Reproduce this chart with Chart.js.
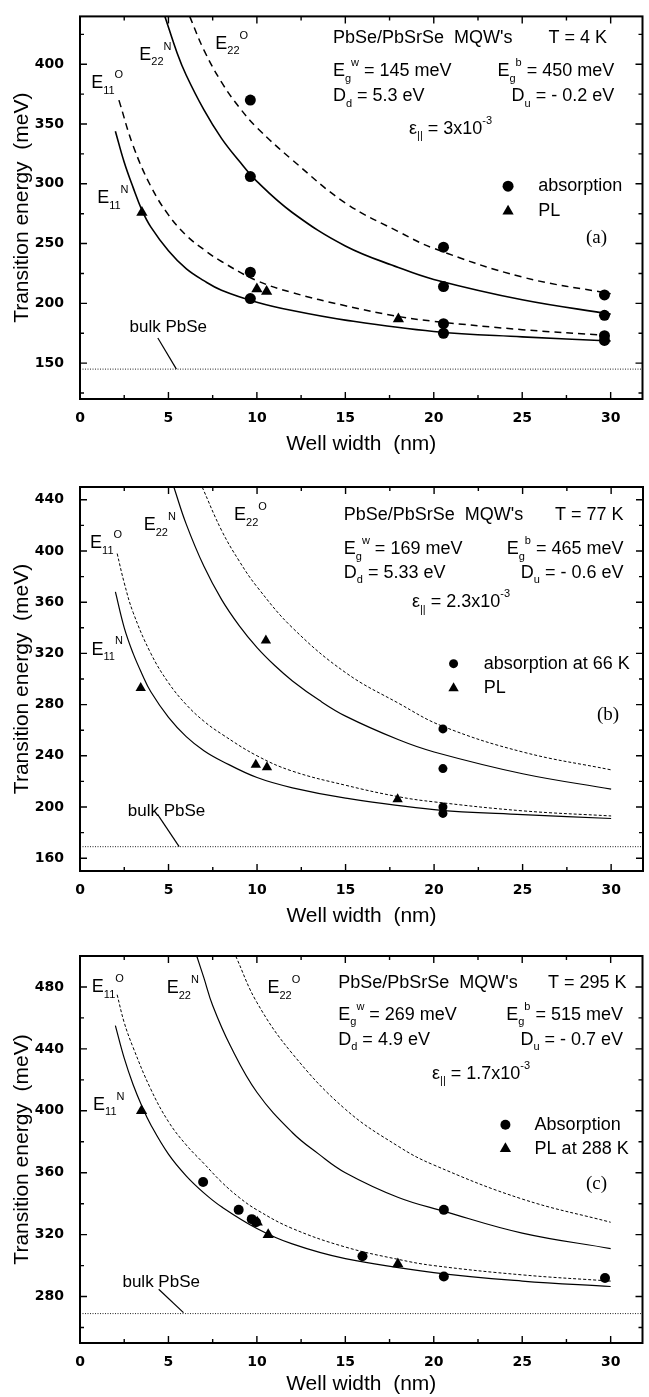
<!doctype html>
<html>
<head>
<title>PbSe/PbSrSe MQW transition energies</title>
<script src="https://cdn.jsdelivr.net/npm/chart.js@4/dist/chart.umd.min.js"></script>
<style>
  body { margin: 0; background: #fff; }
  canvas { position: absolute; left: 0; }
</style>
</head>
<body>
<canvas id="ca" width="649" height="466" style="top:0"></canvas>
<canvas id="cb" width="649" height="466" style="top:466px"></canvas>
<canvas id="cc" width="649" height="465" style="top:932px"></canvas>
<script>
// ---- values ----
const xTickValues = [0, 2.5, 5, 7.5, 10, 12.5, 15, 17.5, 20, 22.5, 25, 27.5, 30];
const xTickLabels = [0, 5, 10, 15, 20, 25, 30];

// (a) T = 4 K
const aYTicks = [125, 150, 175, 200, 225, 250, 275, 300, 325, 350, 375, 400, 425];
const aYLabels = [150, 200, 250, 300, 350, 400];
const aBulk = 145;
const aE11N = [[2, 344], [2.5, 318], [3, 297], [3.5, 278], [4, 264], [5, 244], [6, 229], [7, 219], [8, 211], [10, 201], [12, 194], [15, 186], [20, 176.5], [25, 172], [30, 168.5]];
const aE11O = [[2.2, 370], [3, 332], [4, 298], [5, 274], [6, 257], [7, 245], [8, 235], [10, 219], [12, 209], [15, 198], [18, 189], [20, 185], [25, 178], [30, 173]];
const aE22N = [[4.8, 440], [5.5, 409], [6, 391], [7, 362], [8, 338], [9, 319], [10, 302], [12, 276], [15, 248], [18, 230], [20, 220], [25, 203], [30, 191]];
const aE22O = [[6.2, 440], [7, 412], [8, 385], [9, 364], [10, 347], [12, 320], [15, 284], [18, 260], [20, 246], [25, 222], [30, 208]];
const aAbsorption = [[9.63, 370], [9.63, 306], [9.63, 226], [9.63, 204], [20.55, 247], [20.55, 214], [20.55, 183], [20.55, 175], [29.65, 207], [29.65, 190], [29.65, 173], [29.65, 169]];
const aPL = [[3.5, 276], [10.0, 212], [10.55, 210], [18.0, 187]];

// (b) T = 77 K
const bYTicks = [160, 180, 200, 220, 240, 260, 280, 300, 320, 340, 360, 380, 400, 420, 440];
const bYLabels = [160, 200, 240, 280, 320, 360, 400, 440];
const bBulk = 169;
const bE11N = [[2, 368], [2.5, 340], [3, 320], [3.5, 304], [4, 290], [5, 270], [6, 255], [7, 244], [8, 236], [10, 223], [12, 215], [15, 207], [20, 198], [25, 194], [30, 191]];
const bE11O = [[2.1, 398], [2.5, 375], [3, 352], [4, 320], [5, 297], [6, 280], [7, 267], [8, 257], [10, 240], [12, 228], [15, 217], [18, 208], [20, 204], [25, 197], [30, 193]];
const bE22N = [[5.3, 450], [6, 421], [7, 388], [8, 362], [9, 341.5], [10, 324.5], [11, 310.5], [12, 298.5], [13.5, 283.5], [15, 271], [18, 252.5], [20, 243], [25, 226], [30, 214]];
const bE22O = [[6.9, 450], [8, 416], [9, 392], [10, 372], [12, 340], [15, 305], [18, 281], [20.5, 263], [25, 243], [30, 229]];
const bAbsorption = [[20.5, 261], [20.5, 230], [20.5, 200], [20.5, 195]];
const bPL = [[3.43, 293], [10.5, 330], [9.93, 233], [10.56, 231], [17.94, 206]];

// (c) T = 295 K
const cYTicks = [260, 280, 300, 320, 340, 360, 380, 400, 420, 440, 460, 480];
const cYLabels = [280, 320, 360, 400, 440, 480];
const cBulk = 269;
const cE11N = [[2, 455], [2.5, 434], [3, 417], [3.5, 403], [4, 391], [5, 372], [6, 358], [7, 347], [8, 338], [10, 324], [12, 314], [15, 304.5], [20, 295.5], [25, 290], [30, 286.5]];
const cE11O = [[2.1, 475], [2.5, 457], [3, 441], [4, 414], [5, 393], [6, 378], [7, 366], [8, 354], [9, 344], [10, 336], [12, 324], [15, 312], [18, 304], [20, 300], [25, 294], [30, 290]];
const cE22N = [[6.6, 500], [7, 486], [7.5, 468], [8.5, 442], [10, 412], [12, 386], [13.5, 372], [15, 360], [18, 344], [20.6, 335], [25, 321], [30, 311]];
const cE22O = [[8.8, 500], [10, 470], [12, 437], [15, 401], [18, 377], [20, 365], [25, 343], [30, 328]];
const cAbsorption = [[6.96, 354], [8.97, 336], [9.71, 330], [9.95, 328], [15.97, 306], [20.57, 336], [20.57, 293], [29.68, 292]];
const cPL = [[3.48, 400], [10.02, 328], [10.64, 320], [17.97, 301]];

// ---- drawing ----
const SANS = '"Liberation Sans", Arial, sans-serif';
const SERIF = '"Liberation Serif", "Times New Roman", serif';
const tickFont = { family: 'DejaVu Sans', size: 14, weight: 'bold' };
const titleFont = { family: SANS, size: 21 };
const X_MAX = 31.8;

function pts(arr) { return arr.map(p => ({ x: p[0], y: p[1] })); }

function parseRich(s) {
  const out = [];
  let buf = '', i = 0;
  while (i < s.length) {
    const c = s[i];
    if ((c === '_' || c === '^') && s[i + 1] === '{') {
      if (buf) { out.push({ t: buf, m: 0 }); buf = ''; }
      const j = s.indexOf('}', i);
      out.push({ t: s.slice(i + 2, j), m: c === '_' ? 1 : 2 });
      i = j + 1;
    } else { buf += c; i++; }
  }
  if (buf) out.push({ t: buf, m: 0 });
  return out;
}

function drawRich(ctx, s, x, y, align, size, family) {
  const parts = parseRich(s);
  const small = Math.round(size * 0.62);
  const fonts = [size + 'px ' + family, small + 'px ' + family, small + 'px ' + family];
  let w = 0;
  parts.forEach(p => { ctx.font = fonts[p.m]; p.w = ctx.measureText(p.t).width; w += p.w; });
  let cx = align === 'right' ? x - w : x;
  ctx.textAlign = 'left';
  ctx.textBaseline = 'middle';
  parts.forEach(p => {
    ctx.font = fonts[p.m];
    const dy = p.m === 1 ? size * 0.42 : (p.m === 2 ? -size * 0.45 : 0);
    ctx.fillText(p.t, cx, y + dy);
    cx += p.w;
  });
}

function marker(ctx, style, x, y, r) {
  ctx.beginPath();
  if (style === 'circle') {
    ctx.arc(x, y, r, 0, Math.PI * 2);
  } else {
    ctx.moveTo(x, y - r);
    ctx.lineTo(x + r * 0.866, y + r / 2);
    ctx.lineTo(x - r * 0.866, y + r / 2);
    ctx.closePath();
  }
  ctx.fill();
}

// frame with inward ticks, in-plot labels, legend
const decor = {
  id: 'decor',
  afterDraw(chart, args, o) {
    const { ctx, chartArea: a, scales: { x, y } } = chart;
    ctx.save();
    ctx.fillStyle = '#000';
    ctx.strokeStyle = '#000';
    ctx.lineWidth = 1.4;
    ctx.beginPath();
    x.ticks.forEach(t => {
      const px = x.getPixelForValue(t.value);
      const len = xTickLabels.includes(t.value) ? 7 : 4;
      ctx.moveTo(px, a.bottom); ctx.lineTo(px, a.bottom - len);
      ctx.moveTo(px, a.top); ctx.lineTo(px, a.top + len);
    });
    y.ticks.forEach(t => {
      const py = y.getPixelForValue(t.value);
      const len = o.yMajor.includes(t.value) ? 7 : 4;
      ctx.moveTo(a.left, py); ctx.lineTo(a.left + len, py);
      ctx.moveTo(a.right, py); ctx.lineTo(a.right - len, py);
    });
    ctx.stroke();
    ctx.lineWidth = 2;
    ctx.strokeRect(a.left, a.top, a.width, a.height);

    // leader from "bulk PbSe" to the bulk gap line
    ctx.lineWidth = 1.2;
    ctx.beginPath();
    ctx.moveTo(x.getPixelForValue(o.leader[0][0]), y.getPixelForValue(o.leader[0][1]));
    ctx.lineTo(x.getPixelForValue(o.leader[1][0]), y.getPixelForValue(o.leader[1][1]));
    ctx.stroke();

    o.texts.forEach(t => drawRich(ctx, t.s, x.getPixelForValue(t.x), y.getPixelForValue(t.y),
      t.align, t.size || 18, t.family || SANS));
    o.legend.forEach(m => marker(ctx, m.style, x.getPixelForValue(m.x), y.getPixelForValue(m.y), m.r));
    ctx.restore();
  }
};

function curve(data, dashed, width) {
  return {
    data: pts(data), showLine: true, pointRadius: 0, borderColor: '#000',
    borderWidth: width, borderDash: dashed || [], tension: 0.4
  };
}

function buildPanel(id, P) {
  const datasets = [
    { data: [{ x: 0, y: P.bulk }, { x: X_MAX, y: P.bulk }], showLine: true, pointRadius: 0,
      borderColor: '#222', borderWidth: 1, borderDash: [1, 1.5] },
    curve(P.e11n, null, P.lw), curve(P.e11o, P.dash, P.dw),
    curve(P.e22n, null, P.lw), curve(P.e22o, P.dash, P.dw),
    { data: pts(P.abs), showLine: false, pointStyle: 'circle', pointRadius: P.cr,
      backgroundColor: '#000', borderColor: '#000', borderWidth: 0 },
    { data: pts(P.pl), showLine: false, pointStyle: 'triangle', pointRadius: P.tr,
      backgroundColor: '#000', borderColor: '#000', borderWidth: 0 }
  ];
  return new Chart(document.getElementById(id), {
    type: 'scatter',
    data: { datasets },
    plugins: [decor],
    options: {
      responsive: false,
      animation: false,
      events: [],
      layout: { padding: { top: P.padTop, right: 4, left: 0, bottom: 0 } },
      plugins: {
        legend: { display: false },
        tooltip: { enabled: false },
        decor: { yMajor: P.yLabels, texts: P.texts, legend: P.legend, leader: P.leader }
      },
      scales: {
        x: {
          type: 'linear', min: 0, max: X_MAX,
          grid: { display: false }, border: { display: false },
          afterBuildTicks: s => { s.ticks = xTickValues.map(v => ({ value: v })); },
          afterFit: s => { s.height = P.xAxisH; },
          ticks: { autoSkip: false, maxRotation: 0, padding: 3, color: '#000', font: tickFont,
            callback: v => xTickLabels.includes(v) ? String(v) : '' },
          title: { display: true, text: 'Well width  (nm)', color: '#000', font: titleFont,
            padding: { top: 0, bottom: P.xTitlePad } }
        },
        y: {
          type: 'linear', min: P.yRange[0], max: P.yRange[1],
          grid: { display: false }, border: { display: false },
          afterBuildTicks: s => { s.ticks = P.yTicks.map(v => ({ value: v })); },
          afterFit: s => { s.width = 80; },
          ticks: { autoSkip: false, padding: 8, color: '#000', font: tickFont,
            callback: v => P.yLabels.includes(v) ? String(v) : '' },
          title: { display: true, text: 'Transition energy  (meV)', color: '#000', font: titleFont,
            padding: { top: 10, bottom: 0 } }
        }
      }
    }
  });
}

buildPanel('ca', {
  yRange: [120, 440], yTicks: aYTicks, yLabels: aYLabels, bulk: aBulk,
  e11n: aE11N, e11o: aE11O, e22n: aE22N, e22o: aE22O, abs: aAbsorption, pl: aPL,
  lw: 1.6, dw: 1.5, dash: [7, 5], cr: 5.5, tr: 6.5,
  padTop: 14, xAxisH: 67, xTitlePad: 9,
  leader: [[4.4, 171], [5.45, 145]],
  legend: [{ style: 'circle', x: 24.2, y: 298, r: 5.5 }, { style: 'triangle', x: 24.2, y: 277, r: 6.5 }],
  texts: [
    { s: 'E_{11}^{O}', x: 0.63, y: 384 },
    { s: 'E_{22}^{N}', x: 3.35, y: 408 },
    { s: 'E_{22}^{O}', x: 7.65, y: 417 },
    { s: 'E_{11}^{N}', x: 0.97, y: 288 },
    { s: "PbSe/PbSrSe  MQW's", x: 14.3, y: 422 },
    { s: 'T = 4 K', x: 29.8, y: 422, align: 'right' },
    { s: 'E_{g}^{w} = 145 meV', x: 14.3, y: 394 },
    { s: 'E_{g}^{b} = 450 meV', x: 30.2, y: 394, align: 'right' },
    { s: 'D_{d} = 5.3 eV', x: 14.3, y: 373 },
    { s: 'D_{u} = - 0.2 eV', x: 30.2, y: 373, align: 'right' },
    { s: 'ε_{||} = 3x10^{-3}', x: 18.6, y: 346 },
    { s: 'absorption', x: 25.9, y: 298 },
    { s: 'PL', x: 25.9, y: 277 },
    { s: 'bulk PbSe', x: 2.8, y: 180, size: 17 },
    { s: '(a)', x: 28.6, y: 255, size: 19, family: SERIF }
  ]
});

buildPanel('cb', {
  yRange: [150, 450], yTicks: bYTicks, yLabels: bYLabels, bulk: bBulk,
  e11n: bE11N, e11o: bE11O, e22n: bE22N, e22o: bE22O, abs: bAbsorption, pl: bPL,
  lw: 1.2, dw: 1.0, dash: [3, 2], cr: 4.5, tr: 6,
  padTop: 21, xAxisH: 61, xTitlePad: 3,
  leader: [[4.39, 194], [5.6, 169]],
  legend: [{ style: 'circle', x: 21.1, y: 312, r: 4.5 }, { style: 'triangle', x: 21.1, y: 292.7, r: 6 }],
  texts: [
    { s: 'E_{11}^{O}', x: 0.57, y: 406 },
    { s: 'E_{22}^{N}', x: 3.6, y: 420 },
    { s: 'E_{22}^{O}', x: 8.7, y: 428 },
    { s: 'E_{11}^{N}', x: 0.65, y: 323 },
    { s: "PbSe/PbSrSe  MQW's", x: 14.9, y: 428 },
    { s: 'T = 77 K', x: 30.7, y: 428, align: 'right' },
    { s: 'E_{g}^{w} = 169 meV', x: 14.9, y: 401.5 },
    { s: 'E_{g}^{b} = 465 meV', x: 30.7, y: 401.5, align: 'right' },
    { s: 'D_{d} = 5.33 eV', x: 14.9, y: 383 },
    { s: 'D_{u} = - 0.6 eV', x: 30.7, y: 383, align: 'right' },
    { s: 'ε_{||} = 2.3x10^{-3}', x: 18.75, y: 360 },
    { s: 'absorption at 66 K', x: 22.8, y: 312 },
    { s: 'PL', x: 22.8, y: 292.7 },
    { s: 'bulk PbSe', x: 2.7, y: 197, size: 17 },
    { s: '(b)', x: 29.2, y: 272, size: 19, family: SERIF }
  ]
});

buildPanel('cc', {
  yRange: [250, 500], yTicks: cYTicks, yLabels: cYLabels, bulk: cBulk,
  e11n: cE11N, e11o: cE11O, e22n: cE22N, e22o: cE22O, abs: cAbsorption, pl: cPL,
  lw: 1.2, dw: 1.0, dash: [3, 2], cr: 5, tr: 6.5,
  padTop: 24, xAxisH: 54, xTitlePad: 0,
  leader: [[4.45, 284.7], [5.85, 269.6]],
  legend: [{ style: 'circle', x: 24.05, y: 391, r: 5 }, { style: 'triangle', x: 24.05, y: 375.5, r: 6.5 }],
  texts: [
    { s: 'E_{11}^{O}', x: 0.67, y: 480 },
    { s: 'E_{22}^{N}', x: 4.9, y: 479 },
    { s: 'E_{22}^{O}', x: 10.6, y: 479 },
    { s: 'E_{11}^{N}', x: 0.74, y: 404 },
    { s: "PbSe/PbSrSe  MQW's", x: 14.6, y: 482.6 },
    { s: 'T = 295 K', x: 30.9, y: 482.6, align: 'right' },
    { s: 'E_{g}^{w} = 269 meV', x: 14.6, y: 462 },
    { s: 'E_{g}^{b} = 515 meV', x: 30.7, y: 462, align: 'right' },
    { s: 'D_{d} = 4.9 eV', x: 14.6, y: 446 },
    { s: 'D_{u} = - 0.7 eV', x: 30.7, y: 446, align: 'right' },
    { s: 'ε_{||} = 1.7x10^{-3}', x: 19.9, y: 424 },
    { s: 'Absorption', x: 25.7, y: 391 },
    { s: 'PL at 288 K', x: 25.7, y: 375.5 },
    { s: 'bulk PbSe', x: 2.4, y: 289, size: 17 },
    { s: '(c)', x: 28.6, y: 353, size: 19, family: SERIF }
  ]
});
</script>
</body>
</html>
